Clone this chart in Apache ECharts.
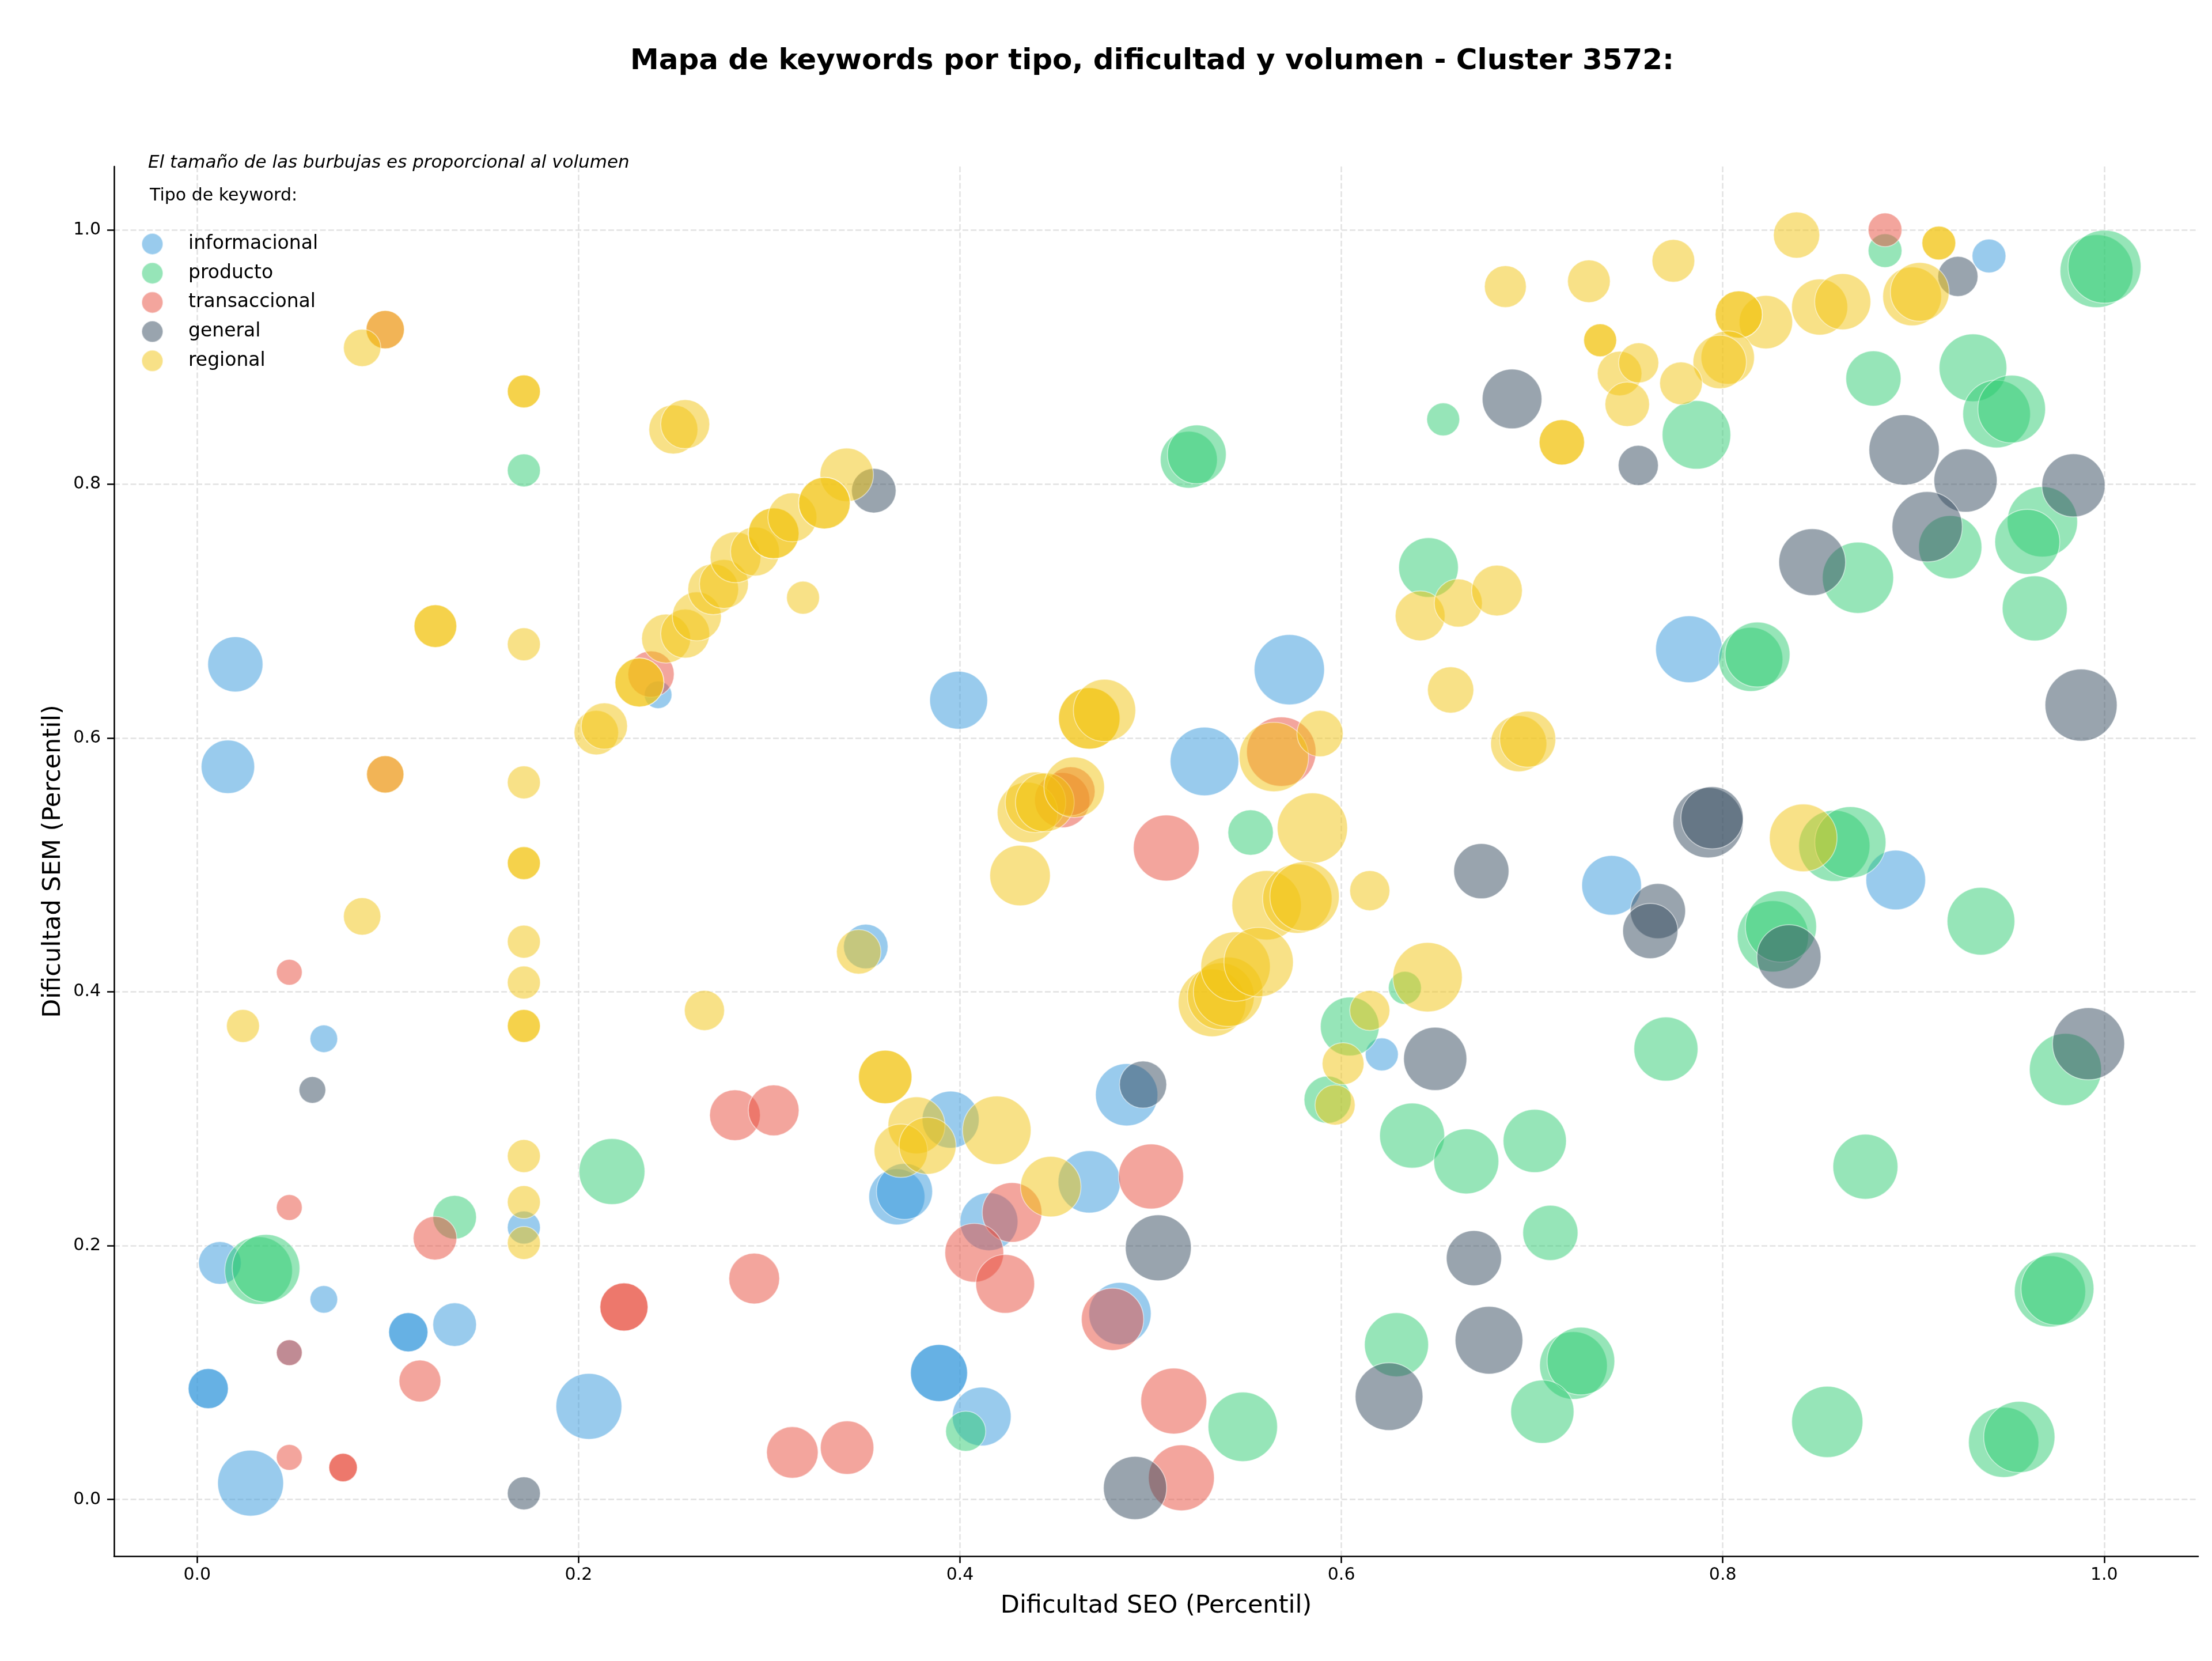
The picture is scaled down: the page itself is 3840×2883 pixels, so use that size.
<!DOCTYPE html>
<html>
<head>
<meta charset="utf-8">
<title>Mapa de keywords - Cluster 3572</title>
<script src="https://cdn.jsdelivr.net/npm/echarts@6/dist/echarts.min.js"></script>
<style>
  html, body { margin: 0; padding: 0; background: #fff; }
  #chart { width: 3840px; height: 2883px; }
</style>
</head>
<body>
<div id="chart"></div>
<script>
// cada punto: [dificultad SEO, dificultad SEM, volumen]
var informacional = [
  [0.2417, 0.6340, 960], [0.0200, 0.6580, 3840], [0.0161, 0.5773, 3600],
  [0.0664, 0.3630, 960], [0.0483, 0.1157, 840], [0.0664, 0.1577, 960],
  [0.0119, 0.1864, 2300], [0.1713, 0.2143, 1370], [0.1107, 0.1318, 1940],
  [0.1107, 0.1318, 1940], [0.1350, 0.1378, 2400], [0.0058, 0.0874, 2030],
  [0.0058, 0.0874, 2030], [0.2054, 0.0734, 5480], [0.0280, 0.0129, 5480],
  [0.3993, 0.6297, 4230], [0.5727, 0.6538, 6240], [0.5282, 0.5815, 5930],
  [0.3506, 0.4357, 2500], [0.4874, 0.3189, 4900], [0.3951, 0.2993, 4100],
  [0.3669, 0.2385, 3970], [0.3709, 0.2427, 3970], [0.4678, 0.2503, 4900],
  [0.4152, 0.2189, 4230], [0.4839, 0.1465, 4900], [0.3890, 0.0997, 4100],
  [0.3890, 0.0997, 4100], [0.4114, 0.0654, 4360], [0.6212, 0.3507, 1370],
  [0.9396, 0.9797, 1440], [0.7823, 0.6699, 5630], [0.7417, 0.4839, 4490],
  [0.8907, 0.4881, 4490]
];

var producto = [
  [0.1713, 0.8108, 1370], [0.2175, 0.2584, 5480], [0.1350, 0.2224, 2400],
  [0.0322, 0.1804, 5780], [0.0361, 0.1822, 5780], [0.6534, 0.8510, 1370],
  [0.5200, 0.8192, 4100], [0.5242, 0.8234, 4360], [0.6457, 0.7343, 4490],
  [0.5524, 0.5255, 2600], [0.6333, 0.4031, 1370], [0.6044, 0.3727, 4360],
  [0.5928, 0.3150, 2810], [0.6371, 0.2867, 5330], [0.6655, 0.2664, 5330],
  [0.4030, 0.0538, 2030], [0.5483, 0.0573, 6080], [0.6289, 0.1220, 5180],
  [0.8851, 0.9839, 1440], [0.9960, 0.9678, 6720], [1.0002, 0.9713, 6720],
  [0.7862, 0.8388, 5930], [0.8790, 0.8832, 3840], [0.9312, 0.8916, 5780],
  [0.9436, 0.8552, 5780], [0.9515, 0.8591, 5780], [0.9193, 0.7503, 5040],
  [0.9676, 0.7703, 6240], [0.9597, 0.7545, 5330], [0.8709, 0.7262, 6400],
  [0.9636, 0.7021, 5330], [0.8147, 0.6619, 5180], [0.8182, 0.6657, 5330],
  [0.8585, 0.5150, 6400], [0.8669, 0.5178, 6400], [0.8263, 0.4437, 6400],
  [0.8305, 0.4514, 6400], [0.9354, 0.4556, 5780], [0.9797, 0.3388, 6560],
  [0.7702, 0.3549, 5180], [0.7014, 0.2825, 5040], [0.8748, 0.2622, 5330],
  [0.7096, 0.2101, 3840], [0.9716, 0.1640, 6400], [0.9755, 0.1661, 6720],
  [0.7217, 0.1056, 5780], [0.7256, 0.1091, 5780], [0.7054, 0.0692, 5040],
  [0.8548, 0.0612, 6400], [0.9473, 0.0451, 6240], [0.9555, 0.0493, 6400]
];

var transaccional = [
  [0.0986, 0.9217, 1850], [0.2380, 0.6503, 2700], [0.0986, 0.5713, 1760],
  [0.0483, 0.4154, 840], [0.2820, 0.3028, 3250], [0.3023, 0.3066, 3250],
  [0.0483, 0.2301, 840], [0.1247, 0.2059, 2400], [0.2921, 0.1741, 3250],
  [0.2238, 0.1517, 2920], [0.2238, 0.1517, 2920], [0.0483, 0.1157, 840],
  [0.1168, 0.0934, 2210], [0.0483, 0.0332, 840], [0.0765, 0.0252, 1020],
  [0.0765, 0.0252, 1020], [0.3121, 0.0371, 3360], [0.3408, 0.0409, 3600],
  [0.5685, 0.5892, 6080], [0.4536, 0.5510, 3840], [0.4580, 0.5580, 3030],
  [0.5082, 0.5133, 5480], [0.5002, 0.2545, 5330], [0.4273, 0.2262, 4490],
  [0.4075, 0.1944, 4360], [0.4237, 0.1699, 4360], [0.4800, 0.1420, 4900],
  [0.5121, 0.0776, 5480], [0.5161, 0.0171, 5480], [0.8851, 1.0003, 1440]
];

var general = [
  [0.0604, 0.3227, 900], [0.1713, 0.0049, 1370], [0.3548, 0.7948, 2500],
  [0.6734, 0.4951, 3840], [0.4960, 0.3269, 2810], [0.5040, 0.1983, 5480],
  [0.4918, 0.0091, 5040], [0.6492, 0.3472, 5040], [0.6695, 0.1902, 3840],
  [0.6250, 0.0811, 5780], [0.6774, 0.1255, 5780], [0.6895, 0.8671, 4490],
  [0.7557, 0.8147, 2030], [0.9233, 0.9636, 2030], [0.8951, 0.8269, 6240],
  [0.9273, 0.8028, 5040], [0.9839, 0.7990, 5040], [0.9072, 0.7664, 6240],
  [0.8469, 0.7385, 5630], [0.9879, 0.6259, 6560], [0.7923, 0.5332, 6240],
  [0.7944, 0.5371, 4900], [0.7660, 0.4636, 3840], [0.7620, 0.4479, 3840],
  [0.8347, 0.4276, 5180], [0.9918, 0.3591, 6560]
];

var regional = [
  [0.0986, 0.9217, 1850], [0.0865, 0.9073, 1760], [0.1713, 0.8730, 1370],
  [0.1713, 0.8730, 1370], [0.2497, 0.8430, 3030], [0.2559, 0.8472, 3030],
  [0.2093, 0.6042, 2500], [0.2135, 0.6094, 2700], [0.2319, 0.6437, 3030],
  [0.2319, 0.6437, 3030], [0.2459, 0.6783, 3030], [0.2559, 0.6822, 3030],
  [0.2620, 0.6958, 3030], [0.2706, 0.7171, 3250], [0.2762, 0.7213, 3030],
  [0.2823, 0.7423, 3250], [0.2925, 0.7469, 3030], [0.3023, 0.7612, 3250],
  [0.3023, 0.7612, 3250], [0.3121, 0.7738, 3030], [0.3177, 0.7105, 1370],
  [0.3406, 0.8073, 3600], [0.3289, 0.7850, 3360], [0.3289, 0.7850, 3360],
  [0.1249, 0.6881, 2300], [0.1249, 0.6881, 2300], [0.1713, 0.6738, 1370],
  [0.0986, 0.5713, 1760], [0.1713, 0.5650, 1370], [0.1713, 0.5014, 1370],
  [0.1713, 0.5014, 1370], [0.0865, 0.4594, 1760], [0.1713, 0.4395, 1370],
  [0.1713, 0.4073, 1370], [0.1713, 0.3731, 1370], [0.1713, 0.3731, 1370],
  [0.0240, 0.3731, 1370], [0.2660, 0.3853, 2030], [0.1713, 0.2706, 1370],
  [0.1713, 0.2343, 1370], [0.1713, 0.2021, 1370], [0.3469, 0.4315, 2500],
  [0.3608, 0.3329, 3600], [0.3608, 0.3329, 3600], [0.3772, 0.2948, 4100],
  [0.3690, 0.2748, 3600], [0.3830, 0.2787, 4100], [0.4193, 0.2909, 5930],
  [0.4476, 0.2465, 4620], [0.4678, 0.6154, 4760], [0.4678, 0.6154, 4760],
  [0.4758, 0.6217, 4900], [0.4354, 0.5413, 4620], [0.4396, 0.5493, 4620],
  [0.4445, 0.5493, 4360], [0.4599, 0.5612, 4620], [0.5646, 0.5850, 6080],
  [0.5888, 0.6035, 2700], [0.5848, 0.5290, 6240], [0.4315, 0.4916, 4620],
  [0.5608, 0.4682, 6080], [0.5769, 0.4734, 6080], [0.5807, 0.4752, 6080],
  [0.6149, 0.4797, 2030], [0.5322, 0.3913, 5780], [0.5368, 0.3965, 5630],
  [0.5406, 0.4000, 6080], [0.5445, 0.4199, 6080], [0.5566, 0.4234, 6080],
  [0.6452, 0.4115, 6080], [0.6149, 0.3853, 2030], [0.6009, 0.3434, 2210],
  [0.5967, 0.3108, 2030], [0.6413, 0.6962, 3140], [0.6613, 0.7063, 2920],
  [0.6816, 0.7161, 3250], [0.6573, 0.6378, 2700], [0.6930, 0.5955, 3970],
  [0.6977, 0.5990, 3970], [0.6860, 0.9556, 2210], [0.7298, 0.9598, 2300],
  [0.7741, 0.9759, 2300], [0.8387, 0.9962, 2700], [0.9133, 0.9899, 1440],
  [0.9133, 0.9899, 1440], [0.8993, 0.9479, 4360], [0.9033, 0.9514, 4360],
  [0.8508, 0.9395, 3970], [0.8629, 0.9437, 3970], [0.8226, 0.9276, 3600],
  [0.8084, 0.9336, 2810], [0.8084, 0.9336, 2810], [0.8026, 0.8997, 3600],
  [0.7984, 0.8962, 3600], [0.7781, 0.8794, 2300], [0.7357, 0.9133, 1370],
  [0.7357, 0.9133, 1370], [0.7459, 0.8871, 2500], [0.7559, 0.8955, 2030],
  [0.7499, 0.8629, 2500], [0.7156, 0.8329, 2600], [0.7156, 0.8329, 2600],
  [0.8422, 0.5213, 5780]
];

var tipos = ['informacional', 'producto', 'transaccional', 'general', 'regional'];
var colores = ['#3498db', '#2ecc71', '#e74c3c', '#34495e', '#f1c40f'];
var ticks = [0, 0.2, 0.4, 0.6, 0.8, 1.0];

var font = 'DejaVu Sans';

function volumenATamano(d) {
    // el area de la burbuja es proporcional al volumen
    return Math.sqrt(d[2]) * 1.543;
}

function getSeries() {
    var datos = [informacional, producto, transaccional, general, regional];
    return tipos.map(function (t, i) {
        return {
            name: t,
            type: 'scatter',
            data: datos[i],
            symbolSize: volumenATamano,
            itemStyle: {
                color: colores[i],
                opacity: 0.5,
                borderColor: '#ffffff',
                borderWidth: 1.7
            },
            emphasis: { disabled: true }
        };
    });
}

function getAxis(name, min, max, gap, margin) {
    return {
        type: 'value',
        min: min,
        max: max,
        name: name,
        nameLocation: 'middle',
        nameGap: gap,
        nameTextStyle: { fontSize: 43, color: '#000', fontFamily: font },
        axisLine: { show: true, onZero: false, lineStyle: { color: '#000', width: 2.5 } },
        axisTick: { show: true, length: 12, lineStyle: { color: '#000', width: 2.5 }, customValues: ticks },
        axisLabel: {
            customValues: ticks,
            fontSize: 30,
            color: '#000',
            fontFamily: font,
            margin: margin,
            formatter: function (v) { return v.toFixed(1); }
        },
        splitLine: { show: true, lineStyle: { color: '#e2e2e2', width: 2.5, type: [10, 4.3] } }
    };
}

var chart = echarts.init(document.getElementById('chart'));
chart.setOption({
    animation: false,
    backgroundColor: '#ffffff',
    title: [
        {
            text: 'Mapa de keywords por tipo, dificultad y volumen - Cluster 3572:',
            left: 2000,
            top: 82,
            textAlign: 'center',
            padding: 0,
            textStyle: { fontSize: 50, fontWeight: 'bold', color: '#000', fontFamily: font }
        },
        {
            text: 'El tamaño de las burbujas es proporcional al volumen',
            left: 257,
            top: 267,
            padding: 0,
            textStyle: { fontSize: 31, fontStyle: 'italic', fontWeight: 'normal', color: '#000', fontFamily: font }
        },
        {
            text: 'Tipo de keyword:',
            left: 260,
            top: 325,
            padding: 0,
            textStyle: { fontSize: 30, fontWeight: 'normal', color: '#000', fontFamily: font }
        }
    ],
    legend: {
        data: tipos,
        orient: 'vertical',
        left: 245,
        top: 404,
        padding: 0,
        icon: 'circle',
        itemWidth: 115,
        itemHeight: 37,
        itemGap: 11.7,
        selectedMode: false,
        textStyle: { fontSize: 33, color: '#000', fontFamily: font }
    },
    grid: { left: 198, right: 24, top: 289, bottom: 182 },
    xAxis: getAxis('Dificultad SEO (Percentil)', -0.0436, 1.0493, 65, 18),
    yAxis: getAxis('Dificultad SEM (Percentil)', -0.0446, 1.0502, 84, 23),
    series: getSeries()
});
</script>
</body>
</html>
